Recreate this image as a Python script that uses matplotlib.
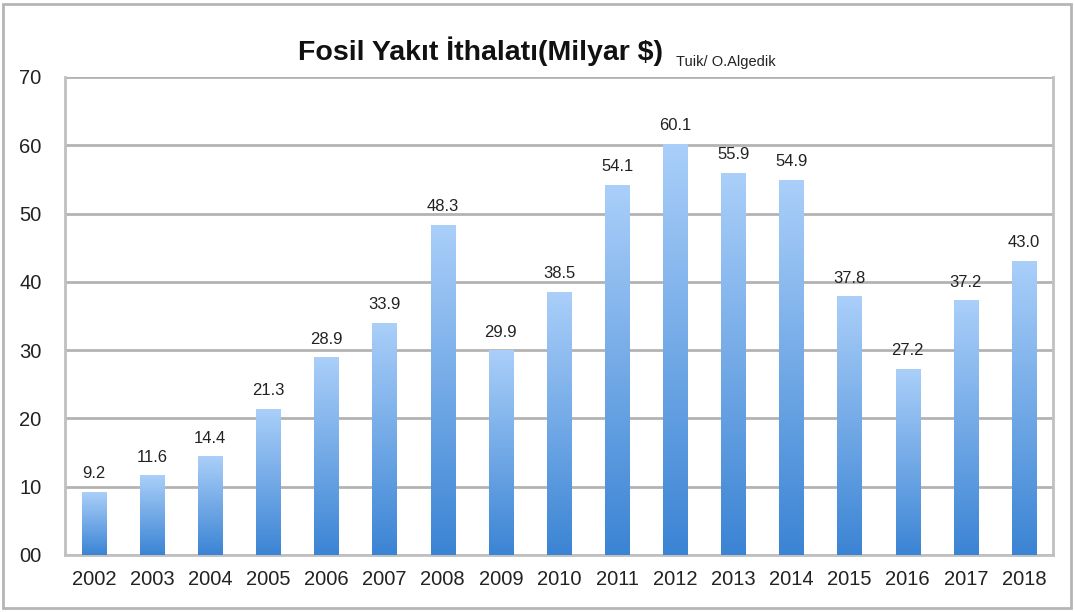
import numpy as np
import matplotlib
matplotlib.use('Agg')
import matplotlib.pyplot as plt
from matplotlib.colors import LinearSegmentedColormap
from matplotlib.patches import Rectangle

plt.rcParams['font.family'] = ['Liberation Sans', 'DejaVu Sans']

years = ['2002', '2003', '2004', '2005', '2006', '2007', '2008', '2009', '2010',
         '2011', '2012', '2013', '2014', '2015', '2016', '2017', '2018']
values = [9.2, 11.6, 14.4, 21.3, 28.9, 33.9, 48.3, 29.9, 38.5,
          54.1, 60.1, 55.9, 54.9, 37.8, 27.2, 37.2, 43.0]
y_ticks = [0, 10, 20, 30, 40, 50, 60, 70]
y_tick_labels = ['00', '10', '20', '30', '40', '50', '60', '70']

fig = plt.figure(figsize=(10.75, 6.12), dpi=100)
ax = fig.add_axes([65 / 1075, 1 - 555 / 612, (1053 - 65) / 1075, (555 - 77) / 612])

# outer frame
fig.patches.append(Rectangle((3 / 1075, 4 / 612), 1068 / 1075, 604 / 612,
                             transform=fig.transFigure, fill=False,
                             edgecolor='#b5b5b5', linewidth=2))

# gradient bars, dark at the bottom, light at the top
cmap = LinearSegmentedColormap.from_list('bar', ['#3b84d4', '#aacff9'])
grad = np.linspace(0, 1, 256).reshape(-1, 1)
width = 0.42
x = np.arange(len(years))
for xi, v in zip(x, values):
    ax.imshow(grad, extent=[xi - width / 2, xi + width / 2, 0, v], aspect='auto',
              cmap=cmap, origin='lower', zorder=3, interpolation='bicubic')
    ax.annotate(f'{v:.1f}', (xi, v), xytext=(0, 8), textcoords='offset points',
                ha='center', va='bottom', fontsize=12, color='#222222')

ax.set_xlim(-0.5, len(years) - 0.5)
ax.set_ylim(0, 70)
ax.set_xticks(x)
ax.set_xticklabels(years, fontsize=14.5, color='#222222')
ax.set_yticks(y_ticks)
ax.set_yticklabels(y_tick_labels, fontsize=14.5, color='#222222')
ax.tick_params(length=0, pad=11)
ax.tick_params(axis='y', pad=17)
ax.grid(axis='y', color='#b3b3b3', linewidth=2, zorder=1)
ax.set_axisbelow(True)
for s in ax.spines.values():
    s.set_color('#c0c0c0')
    s.set_linewidth(2)
ax.spines['top'].set_visible(False)

fig.text(481 / 1075, 1 - 51 / 612, 'Fosil Yakıt İthalatı(Milyar $)', ha='center', va='center',
         fontsize=20.5, fontweight='bold', color='#111111')
fig.text(676 / 1075, 1 - 62 / 612, 'Tuik/ O.Algedik', ha='left', va='center',
         fontsize=10.5, color='#222222')

fig.savefig('out.png', dpi=100)
